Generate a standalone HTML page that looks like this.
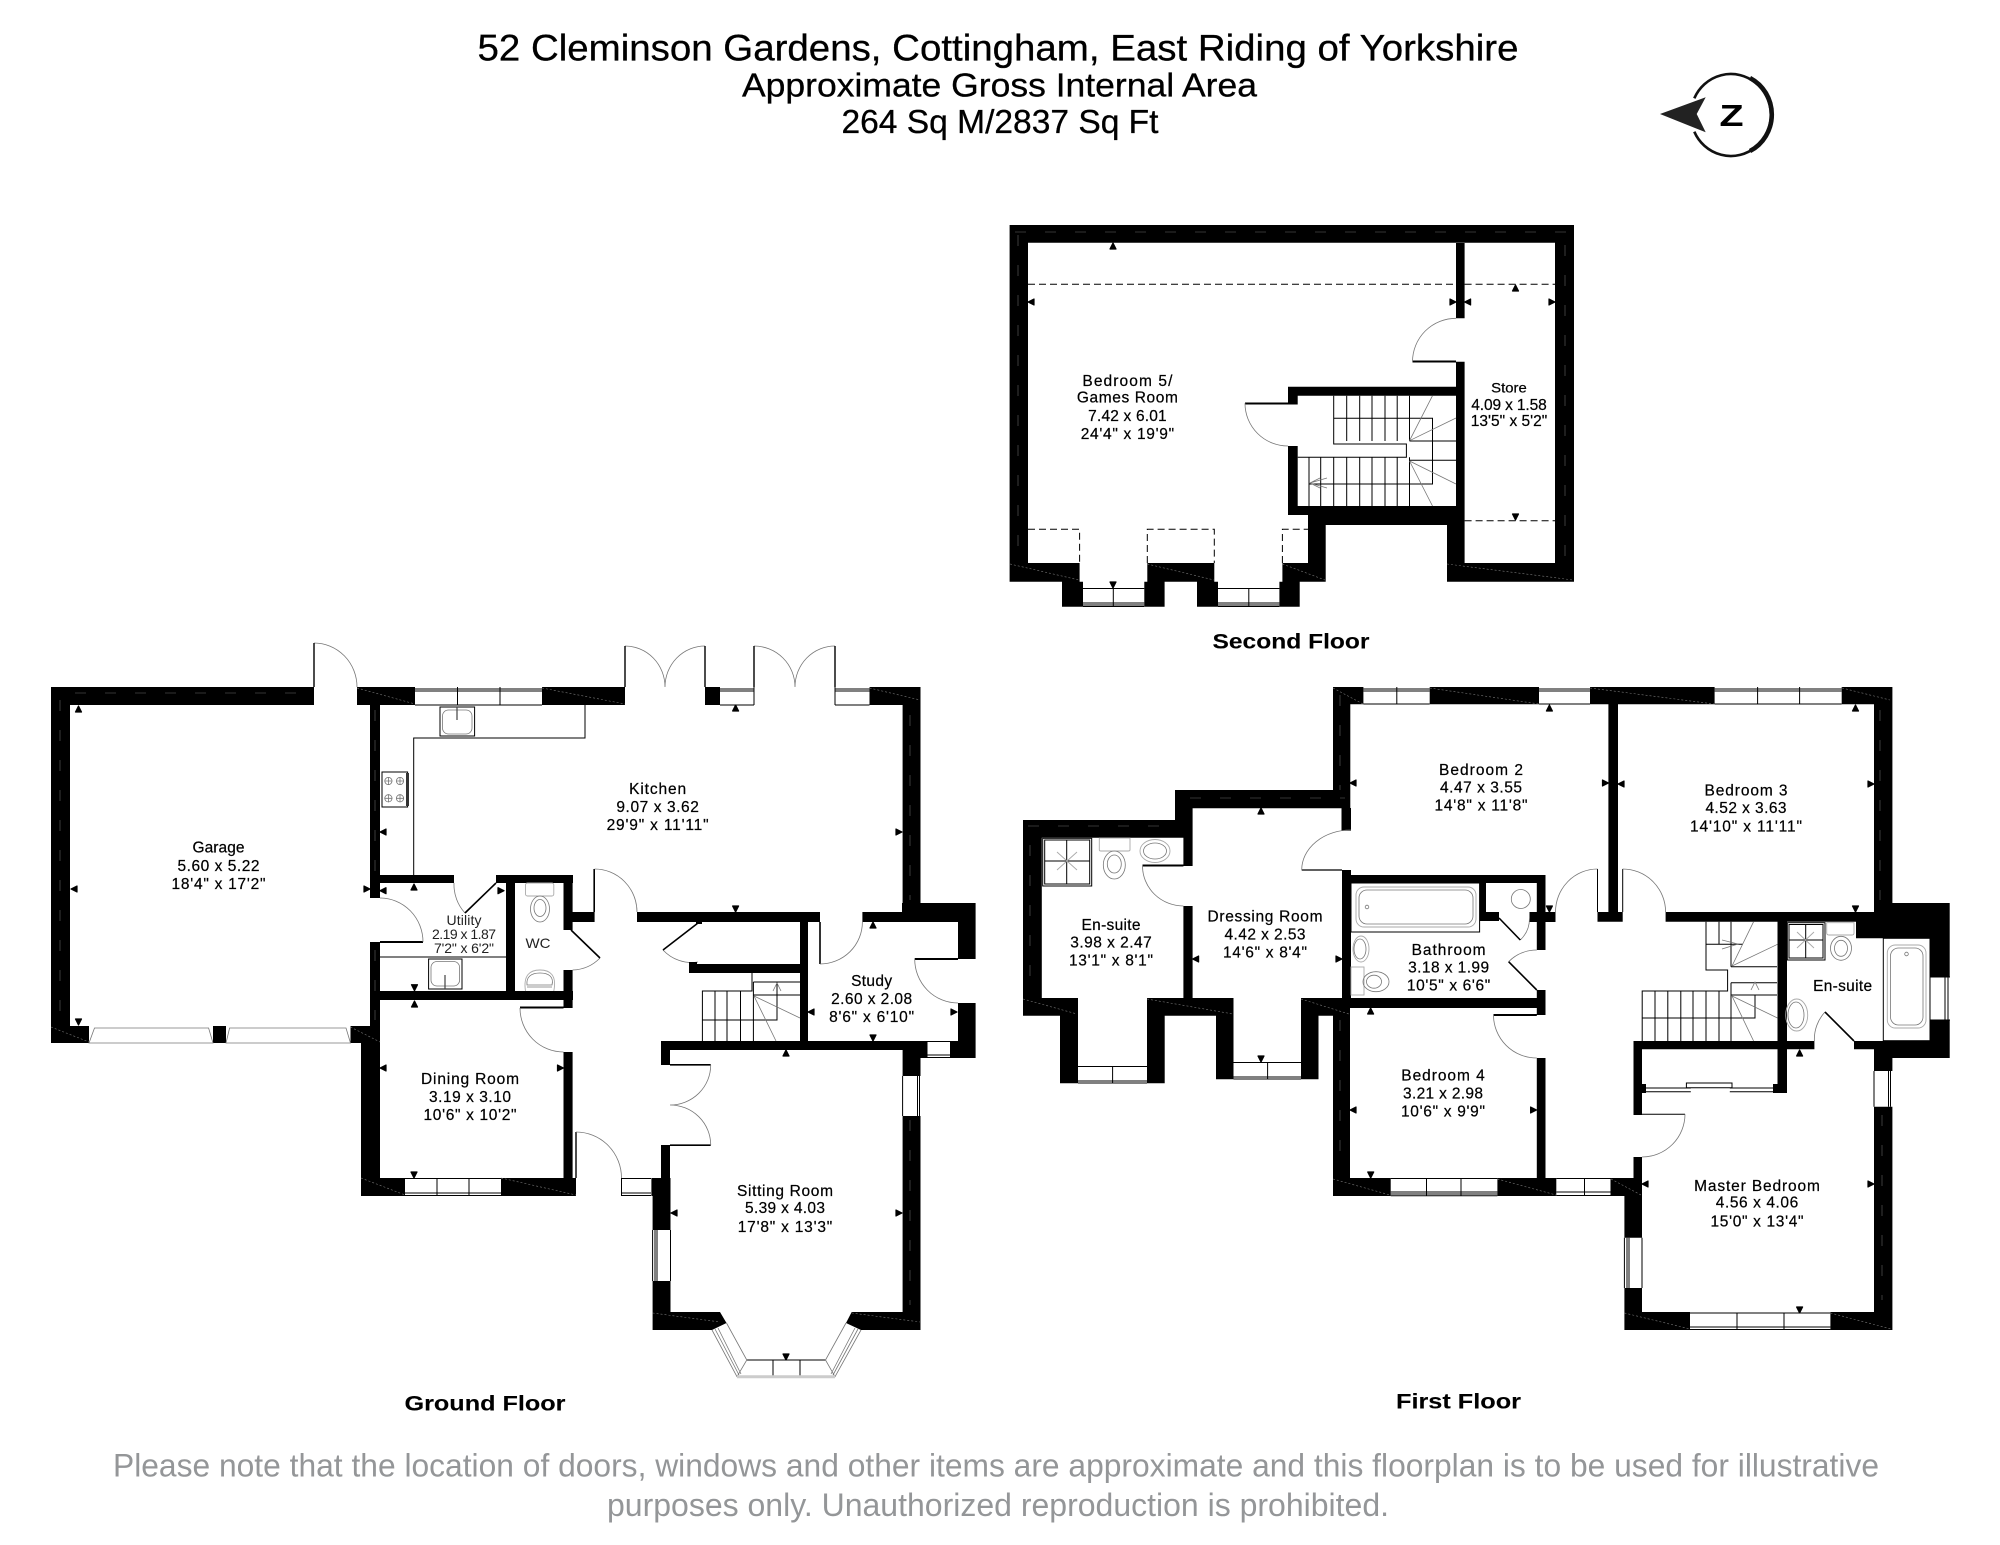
<!DOCTYPE html>
<html><head><meta charset="utf-8"><title>52 Cleminson Gardens Floorplan</title>
<style>
html,body{margin:0;padding:0;background:#fff}
svg{display:block}
text{font-family:"Liberation Sans",sans-serif;text-anchor:middle;fill:#000;font-size:15.5px;stroke:#000;stroke-width:.22}
.k{stroke:#000;stroke-width:1;fill:none}
.k2{stroke:#000;stroke-width:1.6;fill:none}
.g{stroke:#777;stroke-width:.8;fill:none}
.l{stroke:#aaa;stroke-width:.9;fill:none}
.d{stroke:#000;stroke-width:1;stroke-dasharray:7 4;fill:none}
.wd{stroke:#666;stroke-width:.6;stroke-dasharray:11 19;fill:none}
.wd2{stroke:#777;stroke-width:.6;stroke-dasharray:2 2;fill:none}
.t{font-size:14px;fill:#222;stroke-width:0}
.b{font-weight:bold;font-size:21px;stroke-width:.1}
.h{font-size:33px;stroke-width:.3}
.f{font-size:32px;fill:#949698;stroke:none}
</style></head><body>
<svg xmlns="http://www.w3.org/2000/svg" width="2000" height="1545" viewBox="0 0 2000 1545">
<rect width="2000" height="1545" fill="#fff"/>

<!-- Title -->
<text x="998" y="60.5" style="font-size:37px;stroke-width:.3" textLength="1041" lengthAdjust="spacingAndGlyphs">52 Cleminson Gardens, Cottingham, East Riding of Yorkshire</text>
<text x="999.5" y="96.5" class="h" textLength="515" lengthAdjust="spacingAndGlyphs">Approximate Gross Internal Area</text>
<text x="1000" y="133" class="h" textLength="317" lengthAdjust="spacingAndGlyphs">264 Sq M/2837 Sq Ft</text>

<!-- Compass -->
<path d="M1694.3 98.3A40 41 0 1 1 1694.3 131.7" fill="none" stroke="#111" stroke-width="2.6"/>
<path d="M1750 78A40 41 0 0 1 1750 151" fill="none" stroke="#111" stroke-width="4.6"/>
<path d="M1660 114L1705.7 97.3L1696.7 114L1705.7 132.3Z" fill="#222"/>
<text x="1731.5" y="126" class="b" style="font-size:31px" textLength="24" lengthAdjust="spacingAndGlyphs">Z</text>

<!-- WALLS -->
<path fill="#000" d="
M51 687H314V705H51Z M51 687H70V1043H51Z M51 1026H89V1043H51Z M213 1026H226V1043H213Z M350.5 1026H380V1043H350.5Z
M370 705H380V898H370Z M370 942H380V1026H370Z
M357 687H415V705H357Z M542 687H625V705H542Z M705 687H720V705H705Z M869.5 687H920.5V705H869.5Z
M902.6 687H920.5V922H902.6Z M902 903H975.6V922H902Z M862.4 912H975.6V922H862.4Z
M958 903H975.6V959H958Z M958 1003H975.6V1058H958Z M950 1041H975.6V1058H950Z
M914.7 958H958V960H914.7Z
M661 1041H927.5V1050H661Z M902.6 1041H927.5V1058H902.6Z
M902.6 1050H920.5V1076H902.6Z M902.6 1116H920.5V1330H902.6Z
M652.6 1312H720L726.5 1323L712 1330H652.6Z M851.7 1312H920.5V1330H861L846 1323Z
M652.6 1196H670.5V1230H652.6Z M652.6 1281H670.5V1312H652.6Z M651.4 1178H670.5V1196H651.4Z
M661 1145H670V1178H661Z M661 1050H670V1065H661Z M670 1064H710.7V1065.6H670Z M670 1144.4H710.7V1146H670Z
M361 1043H380V1196H361Z M361 1178H405V1196H361Z M501 1178H576V1196H501Z M563.5 1052H572.6V1178H563.5Z M575.3 1132H576.7V1178H575.3Z
M380 875H454V883H380Z M496 875H573V883H496Z M506 883H515V991H506Z M563.5 883H572.6V930H563.5Z M563.5 912H594.6V922H563.5Z M593.4 869H595V912H593.4Z
M637 912H820V922H637Z M800 922H808V1041H800Z M819.2 922H820.8V964H819.2Z M689 964H800V973H689Z
M380 941H423V943H380Z M370 991H573V1000H370Z M563.5 970H572.6V1008H563.5Z M520 1006.5H563.5V1008.5H520Z
M1009.6 225H1574V242.7H1009.6Z M1009.6 225H1028V581.7H1009.6Z M1555 225H1574V581.7H1555Z
M1009.6 563H1079.6V581.7H1009.6Z M1147.3 563H1214.3V581.7H1147.3Z M1282.4 563H1325.7V581.7H1282.4Z M1447 563H1574V581.7H1447Z
M1308 515H1325.7V581.7H1308Z M1447 515H1464.6V581.7H1447Z M1288 506H1464.6V515H1288Z M1308 515H1464.6V525H1308Z
M1456 243H1464.6V318.3H1456Z M1456 361.7H1464.6V525H1456Z M1412.5 360.5H1456V362.5H1412.5Z
M1288 386.7H1464.6V395.7H1288Z M1288 387H1297.7V404H1288Z M1245 402.5H1297.7V404.5H1245Z M1288 446H1297.7V515H1288Z
M1062 581.7H1083V606.7H1062Z M1144.3 581.7H1164.6V606.7H1144.3Z M1197 581.7H1218V606.7H1197Z M1279.4 581.7H1299.7V606.7H1279.4Z
M1023 820H1175V837.7H1023Z M1023 820H1041.8V1015.7H1023Z M1023 998H1078V1015.7H1023Z
M1060 1015.7H1078V1083.3H1060Z M1147 1015.7H1164.7V1083.3H1147Z M1147 998H1233.5V1015.7H1147Z
M1216 1015.7H1233.5V1079.3H1216Z M1301 1015.7H1318.5V1079.3H1301Z M1301 998H1350V1015.7H1301Z
M1175 790H1350.3V808.3H1175Z M1175 790H1192.6V837.7H1175Z M1183.4 837.7H1192.6V866H1183.4Z M1142.5 864.5H1183.4V866.5H1142.5Z M1183.4 906H1192.6V998H1183.4Z
M1333 687H1350.3V808H1333Z M1341.5 808H1351V830.7H1341.5Z M1342 870H1351V1007H1342Z M1301.7 869.4H1342V870.6H1301.7Z
M1333 1007H1350V1196H1333Z M1333 1178H1390.7V1196H1333Z M1497.4 1178H1556.3V1196H1497.4Z M1610.5 1178H1642V1196H1610.5Z
M1536.8 1058H1545.5V1178H1536.8Z M1333 998H1545.5V1008H1333Z M1536.8 990H1545.5V1015H1536.8Z M1493.5 1014H1536.8V1016H1493.5Z
M1342 875H1545.5V883H1342Z M1536.8 875H1545.5V950H1536.8Z M1529.5 912H1555.5V922H1529.5Z
M1479.6 883H1486V912H1479.6Z M1479.6 912H1499V921H1479.6Z
M1608.4 704H1618V921.7H1608.4Z M1597.5 912H1622.7V921.7H1597.5Z M1597 869H1598V912H1597Z M1622.2 869H1623.2V912H1622.2Z
M1665.6 912H1874V921.7H1665.6Z
M1333 687H1363.4V704.3H1333Z M1429.7 687H1539V704.3H1429.7Z M1590 687H1714.6V704.3H1590Z M1841.7 687H1892.4V704.3H1841.7Z M1874 687H1892.4V912H1874Z
M1874 903H1949.7V938.3H1874Z M1856 912H1874V938.3H1856Z
M1930 938H1949.7V977H1930Z M1930 1020H1949.7V1058H1930Z M1854 1041H1949.7V1049.3H1854Z M1874 1041H1949.7V1058H1874Z M1874 1058H1892.4V1071H1874Z M1874 1106.7H1892.4V1330H1874Z
M1777.5 921H1787V1041H1777.5Z M1633.5 1041H1814.4V1049.3H1633.5Z M1777.5 1049H1787V1093H1777.5Z
M1633.5 1049H1642V1115H1633.5Z M1633.5 1157H1642V1178H1633.5Z M1624.4 1196H1642V1237.7H1624.4Z M1624.4 1288H1642V1330H1624.4Z M1624.4 1312H1690V1330H1624.4Z M1830.4 1312H1892.4V1330H1830.4Z
M1642 1113.8H1685V1114.8H1642Z
M1642 1084H1646V1093H1642Z M1773 1084H1777.5V1093H1773Z
"/>

<!-- Window outlines / mullions -->
<path class="k" d="
M415 689H542M415 691H542M415 705H542M457.5 687V705M500 687V705
M720 689H754M720 691H754M720 705H754M754 687V705
M835 687V705M835 689H869.5M835 691H869.5M835 705H869.5
M405 1178.5H501M405 1193H501M405 1195.5H501M437 1178V1196M469 1178V1196
M621.5 1178.5H651M621.5 1193H651M621.5 1195.5H651M621.5 1178V1196
M927.5 1041.5H950M927.5 1055H950M927.5 1057.5H950
M917.5 1076V1116M919.5 1076V1116M902.6 1076V1116
M652.6 1230V1281M655 1230V1281M657 1230V1281M670.5 1230V1281
M1083 588.5H1144.3M1083 603H1144.3M1083 605H1144.3M1083 606.5H1144.3M1113.3 588V606.7
M1218 588.5H1279.4M1218 603H1279.4M1218 605H1279.4M1218 606.5H1279.4M1248.8 588V606.7
M1078 1066.5H1147M1078 1081H1147M1078 1083H1147M1112.6 1066V1083.3
M1233.5 1062.5H1301M1233.5 1077H1301M1233.5 1079H1301M1267.6 1062V1079.3
M1363.4 689H1429.7M1363.4 691H1429.7M1363.4 704H1429.7M1396.8 687V704.3
M1539 689H1590M1539 691H1590M1539 704H1590
M1714.6 689H1841.7M1714.6 691H1841.7M1714.6 704H1841.7M1757.6 687V704.3M1799.6 687V704.3
M1390.7 1178.5H1497.4M1390.7 1192H1497.4M1390.7 1194H1497.4M1390.7 1195.7H1497.4M1426.5 1178V1196M1461 1178V1196
M1556.3 1178.5H1610.5M1556.3 1192H1610.5M1556.3 1195.5H1610.5M1584.5 1178V1196
M1624.4 1237.7V1288M1627 1237.7V1288M1629 1237.7V1288M1642 1237.7V1288
M1874 1071V1106.7M1888.5 1071V1106.7M1890.5 1071V1106.7
M1690 1313H1830.4M1690 1327H1830.4M1690 1329.5H1830.4M1737 1313V1330M1784 1313V1330
M1930 977H1950M1930 1020H1950M1945 977V1020M1948 977V1020
M773 1360V1377M800 1360V1377M746.8 1360H825.5
"/>
<path class="g" d="M89 1043H213L208.6 1028H94.5ZM226 1043H350.5L346 1028H229.6ZM712 1330L737 1376.7H835L861 1330M715 1329L739 1375M718 1328L741 1374M858 1329L833 1375M855 1328L831 1374M726.5 1323L746.8 1360L737 1376.7M846 1323L825.5 1360L835 1376.7"/>
<path d="M737 1376.7H835" stroke="#ccc" stroke-width="3"/>

<!-- Thin wall dashes -->
<path class="wd" d="M75 693H312M60 700V1020M375 710V890M375 950V1020M910 715V900M910 1120V1305M1015 232H1570M1018 235V560M1565 245V560M1028 826H1170M1030 845V990M1340 695V790M1340 1020V1170M1880 710V900M1882 1115V1300M1190 798H1345"/>
<path class="wd2" d="M357 688L415 704M542 688L625 704M869.5 688L920 700M51 1027L89 1042M350.5 1027L380 1042M361 1178L405 1195M501 1178L576 1195M652.6 1313L720 1322M851.7 1313L920 1322M1333 688L1363 704M1429.7 688L1539 704M1590 688L1714 704M1842 688L1890 700M1333 1179L1390 1195M1497.4 1179L1556 1195M1611 1179L1641 1195M1624.4 1313L1690 1329M1830.4 1313L1891 1329M1010 564L1079 580M1147.3 564L1214 580M1282.4 564L1325 580M1447 564L1573 580M1023 999L1077 1014M1147 999L1233 1014M1301 999L1349 1014"/>

<!-- Door arcs -->
<path class="g" d="
M314 643A43 44 0 0 1 357 687
M625 646A40 41 0 0 1 665 687M705 646A40 41 0 0 0 665 687
M754 646A41 41 0 0 1 795 687M835 646A40 41 0 0 0 795 687
M594.6 869A42.4 43 0 0 1 637 912
M820 964A42.4 42 0 0 0 862.4 922
M914.7 959A43.3 44 0 0 0 958 1003
M380 898A43 44 0 0 1 423 942
M454 883A42 42 0 0 0 465 913
M600 958A40 40 0 0 1 572.6 970
M520 1008A43.5 44 0 0 0 563.5 1052
M576 1132A45.5 46 0 0 1 621.5 1178
M710.7 1065A40.7 40 0 0 1 670 1105M670 1105A40.7 40 0 0 1 710.7 1145
M663 950A39 39 0 0 0 698 962
M1456 318.3A43.5 43.4 0 0 0 1412.5 361.7
M1245 403.3A43 42.7 0 0 0 1288 446
M1142.5 866A41 40 0 0 0 1183.4 906
M1351 830A49 40 0 0 0 1301.7 870
M1597.5 869A42 43 0 0 0 1555.5 912
M1622.7 869A43 43 0 0 1 1665.6 912
M1536.8 950A40 40 0 0 0 1508.6 961.7
M1493.5 1015A43.3 43 0 0 0 1536.8 1058
M1685 1114.3A43 43 0 0 1 1642 1157
M1520.3 940A30 30 0 0 0 1529.5 918
M1825 1012A40 40 0 0 0 1814.4 1041
"/>
<!-- Door leaves -->
<path class="k2" d="M465 913L496 883M571 930L600 958M698 923L663 950M1499 918L1520.3 940M1508.6 961.7L1536.8 990M1825 1012L1854 1041"/>
<path d="M314 643V687M625 646V687M705 646V687M754 646V687M835 646V687" stroke="#000" stroke-width="1.4"/>
<rect x="696" y="922" width="6" height="2" fill="#000"/>
<rect x="689" y="962" width="8" height="2" fill="#000"/>

<!-- Dashed roof lines -->
<path class="d" d="M1028 284.3H1456M1464.6 284.3H1555M1464.6 520.7H1555M1028 529.3H1079.6V563M1147.3 563V529.3H1214.3V563M1282.4 563V529.3H1308"/>

<!-- Stairs -->
<path class="k" d="M752 973V991H702.4V1041M715 991V1041M727 991V1041M740.5 991V1041M753.4 982V1041M702.4 1020H777V982M753.4 982H800M753.4 995H800"/>
<path class="g" d="M754 996L800 1018M754 996L776 1041M773 991L777 983L781 991"/>
<path class="k" d="M1333.7 395.7V441M1346.7 395.7V441M1359.7 395.7V441M1372 395.7V441M1385 395.7V441M1397.2 395.7V441M1409.5 395.7V441M1333.7 418.3H1432.5V484H1309M1333.7 441V444H1406.4V457.3H1297.7M1309 457.3V506M1320.7 457.3V506M1333.7 457.3V506M1346.7 457.3V506M1359.7 457.3V506M1372 457.3V506M1385 457.3V506M1397.2 457.3V506M1409.5 457.3V506M1409.5 441H1456M1409.5 460.3H1456"/>
<path class="g" d="M1409.5 440.7L1432.5 395.7M1409.5 440.7L1456 418M1409.5 461L1456 484M1409.5 461L1432.5 506M1327 478L1310 483L1327 488M1320 478L1310 483L1320 488"/>
<path class="k" d="M1706 921.7V970H1727.6V991H1642.2V1041M1655 991V1041M1667.8 991V1041M1680.8 991V1041M1693 991V1041M1706 991V1041M1719 991V1041M1731 982.7V1041M1642.2 1018H1755V995M1731 982.7H1777M1731 995H1777M1706 944.3H1743M1731 966.7H1777M1719 921.7V944.3M1731 921.7V966.7"/>
<path class="g" d="M1732 966L1753.6 921.7M1732 966L1777.5 944.3M1732 996L1777.5 1018M1732 996L1753.6 1041M1722 940L1738 944L1722 949M1751 990L1755 982L1759 990"/>
<!-- Wardrobe -->
<path class="k" d="M1645 1088H1690.8M1645 1091.7H1690.8M1686.4 1083H1732V1087.7H1686.4ZM1729.8 1088H1773M1729.8 1091.7H1773"/>

<!-- Kitchen fittings -->
<path class="k" d="M585 705V738H413.7V875M380 957H506"/>
<rect class="k" x="440" y="707" width="34.6" height="29"/>
<rect class="g" x="442.5" y="710" width="29.5" height="24" rx="6"/>
<path d="M457 707V720" stroke="#444" stroke-width="1.2"/>
<rect class="k" x="382" y="772" width="25.6" height="35"/>
<rect x="406" y="773" width="3" height="33" fill="#333"/>
<path class="g" d="M384.4 781h8M388.4 777v8M396 781h8M400 777v8M384.4 798.3h8M388.4 794.3v8M396 798.3h8M400 794.3v8"/>
<circle class="g" cx="388.4" cy="781" r="3.6"/><circle class="g" cx="400" cy="781" r="3.6"/><circle class="g" cx="388.4" cy="798.3" r="3.6"/><circle class="g" cx="400" cy="798.3" r="3.6"/>
<rect class="k" x="428.6" y="959" width="33.4" height="30"/>
<rect class="g" x="431" y="961.5" width="28.6" height="24.5" rx="6"/>
<path d="M445 975V989" stroke="#444" stroke-width="1.2"/>

<!-- WC ground -->
<rect class="l" x="525.5" y="883" width="28.3" height="13" rx="2"/>
<ellipse class="g" cx="540" cy="909" rx="9.5" ry="13"/><ellipse class="g" cx="540" cy="908" rx="6" ry="8.5"/>
<path class="l" d="M525.5 991C523 975 530 970 540 970C550 970 557 975 553.8 991"/>
<path class="g" d="M527 985C526 977 531 973 540 973C549 973 554 977 552 985ZM527 987H552"/>

<!-- En-suite left -->
<rect class="k" x="1042.7" y="838.3" width="49" height="47.7"/><rect class="k" x="1044.7" y="840" width="45" height="44"/>
<path class="k" d="M1066.7 840V884M1044.7 861H1089.7"/>
<path class="l" d="M1057 852L1077 870M1077 852L1057 870"/>
<path class="l" d="M1099.3 838H1130V850Q1130 851 1128 851H1101Q1099.3 851 1099.3 850Z"/>
<ellipse class="g" cx="1114.3" cy="865" rx="11" ry="14"/><ellipse class="g" cx="1114.3" cy="864" rx="7" ry="9"/>
<ellipse class="l" cx="1155" cy="851" rx="15" ry="11.5"/><ellipse class="g" cx="1155" cy="851" rx="11.5" ry="8"/>

<!-- Bathroom -->
<rect class="k" x="1351" y="883" width="128.6" height="49"/>
<rect class="l" x="1356" y="887" width="120" height="40" rx="8"/>
<rect class="g" x="1359" y="890" width="114" height="34" rx="8"/>
<circle class="g" cx="1367" cy="907" r="1.8"/>
<circle class="g" cx="1520.8" cy="899" r="9.5"/>
<ellipse class="l" cx="1361" cy="949" rx="8" ry="13"/><ellipse class="g" cx="1360" cy="949" rx="6" ry="10"/>
<rect class="l" x="1351" y="967" width="13" height="28"/>
<ellipse class="g" cx="1376" cy="981.7" rx="13" ry="10"/><ellipse class="g" cx="1374" cy="981.7" rx="7.5" ry="6.5"/>

<!-- En-suite right -->
<rect class="k" x="1787.3" y="922.7" width="37.7" height="37.3"/><rect class="k" x="1789" y="924.5" width="34" height="33.5"/>
<path class="k" d="M1805.7 924.5V958M1789 940H1823"/>
<path class="l" d="M1797 932L1814 948M1814 932L1797 948"/>
<path class="l" d="M1826.7 922.7H1854V933Q1854 935 1852 935H1829Q1826.7 935 1826.7 933Z"/>
<ellipse class="g" cx="1841" cy="948.3" rx="10.5" ry="12"/><ellipse class="g" cx="1841" cy="948.3" rx="6.5" ry="8"/>
<rect class="k" x="1883.3" y="938.3" width="46.7" height="102.4"/>
<rect class="l" x="1887.3" y="945" width="38.7" height="83" rx="8"/>
<rect class="g" x="1890.5" y="948" width="32.5" height="77" rx="8"/>
<circle class="g" cx="1906.5" cy="954" r="1.8"/>
<ellipse class="l" cx="1796.7" cy="1015" rx="11" ry="16"/><ellipse class="g" cx="1796" cy="1015" rx="8" ry="13"/>

<!-- Dimension triangles -->
<path fill="#000" stroke="#000" stroke-width="1.2" stroke-linejoin="round" d="
M78.5 706l-3 6h6zM78.5 1025l-3-6h6zM71 889l6-3v6zM370 889l-6-3v6z
M380 832l6-3v6zM902 832l-6-3v6zM735.6 705l-3 6h6zM735.6 912l-3-6h6z
M380 890.7l6-3v6zM504 890.7l-6-3v6zM414 884l-3 6h6zM414.5 990.7l-3-6h6z
M414.5 1001l-3 6h6zM380 1068l6-3v6zM563.5 1068l-6-3v6zM414 1178l-3-6h6z
M808 1012l6-3v6zM957 1012l-6-3v6zM873 922l-3 6h6zM873 1041l-3-6h6z
M786 1050l-3 6h6zM671 1213l6-3v6zM902 1213l-6-3v6zM786 1360l-3-6h6z
M1113 243l-3 6h6zM1028 302l6-3v6zM1456 302l-6-3v6zM1464.6 302l6-3v6zM1555 302l-6-3v6zM1515.5 285l-3 6h6zM1515.5 520l-3-6h6zM1113 588l-3-6h6z
M1261 808l-3 6h6zM1350 783l6-3v6zM1608.5 783l-6-3v6zM1192.6 959l6-3v6zM1342 959l-6-3v6zM1261 1062l-3-6h6zM1370.6 1008l-3 6h6zM1350 1110l6-3v6zM1536.6 1110l-6-3v6z
M1549.4 705l-3 6h6zM1618 784l6-3v6zM1874 784l-6-3v6zM1855.5 705l-3 6h6zM1855.5 912l-3-6h6zM1549.4 912l-3-6h6z
M1370.7 1178l-3-6h6zM1642 1184l6-3v6zM1874 1184l-6-3v6zM1799.6 1313l-3-6h6zM1799.6 1050l-3 6h6z"/>

<!-- Labels: ground -->
<text x="218.5" y="852.5" textLength="52">Garage</text>
<text x="218.5" y="871" textLength="82">5.60 x 5.22</text>
<text x="218.5" y="889" textLength="94">18'4" x 17'2"</text>
<text x="657.6" y="794" textLength="57">Kitchen</text>
<text x="657.6" y="812" textLength="82.5">9.07 x 3.62</text>
<text x="657.6" y="830" textLength="102">29'9" x 11'11"</text>
<text x="464" y="925" class="t" textLength="35">Utility</text>
<text x="464" y="939" class="t" textLength="64">2.19 x 1.87</text>
<text x="464" y="953" class="t" textLength="60">7'2" x 6'2"</text>
<text x="538" y="948" class="t" textLength="25" lengthAdjust="spacingAndGlyphs">WC</text>
<text x="470" y="1084" textLength="98">Dining Room</text>
<text x="470" y="1102" textLength="82">3.19 x 3.10</text>
<text x="470" y="1120" textLength="93">10'6" x 10'2"</text>
<text x="871.6" y="986" textLength="41">Study</text>
<text x="871.6" y="1004" textLength="81">2.60 x 2.08</text>
<text x="871.6" y="1022" textLength="85">8'6" x 6'10"</text>
<text x="785" y="1196" textLength="96">Sitting Room</text>
<text x="785" y="1213" textLength="80">5.39 x 4.03</text>
<text x="785" y="1232" textLength="94.5">17'8" x 13'3"</text>
<text x="485" y="1410.7" class="b" textLength="161" lengthAdjust="spacingAndGlyphs">Ground Floor</text>

<!-- Labels: second -->
<text x="1127.4" y="386" textLength="90">Bedroom 5/</text>
<text x="1127.4" y="402.7" textLength="101">Games Room</text>
<text x="1127.4" y="421" textLength="78.5">7.42 x 6.01</text>
<text x="1127.4" y="439" textLength="93.4">24'4" x 19'9"</text>
<text x="1509" y="392.7" textLength="35.6" lengthAdjust="spacingAndGlyphs" style="font-size:14px">Store</text>
<text x="1509" y="410" textLength="75.4">4.09 x 1.58</text>
<text x="1509" y="426" textLength="76.5">13'5" x 5'2"</text>
<text x="1291" y="648.3" class="b" textLength="157" lengthAdjust="spacingAndGlyphs">Second Floor</text>

<!-- Labels: first -->
<text x="1111" y="930" textLength="59">En-suite</text>
<text x="1111" y="947.7" textLength="81.5">3.98 x 2.47</text>
<text x="1111" y="965.7" textLength="84">13'1" x 8'1"</text>
<text x="1265" y="921.7" textLength="115">Dressing Room</text>
<text x="1265" y="939.3" textLength="81">4.42 x 2.53</text>
<text x="1265" y="957.7" textLength="84">14'6" x 8'4"</text>
<text x="1481" y="775" textLength="84">Bedroom 2</text>
<text x="1481" y="792.7" textLength="82">4.47 x 3.55</text>
<text x="1481" y="810.7" textLength="93">14'8" x 11'8"</text>
<text x="1448.6" y="955" textLength="74">Bathroom</text>
<text x="1448.6" y="972.7" textLength="81">3.18 x 1.99</text>
<text x="1448.6" y="990.7" textLength="83.4">10'5" x 6'6"</text>
<text x="1443" y="1080.7" textLength="83.4">Bedroom 4</text>
<text x="1443" y="1098.3" textLength="80">3.21 x 2.98</text>
<text x="1443" y="1116.7" textLength="84">10'6" x 9'9"</text>
<text x="1746" y="795.7" textLength="83">Bedroom 3</text>
<text x="1746" y="813" textLength="81">4.52 x 3.63</text>
<text x="1746" y="831.7" textLength="112">14'10" x 11'11"</text>
<text x="1842.6" y="991" textLength="59">En-suite</text>
<text x="1757" y="1191" textLength="125.8">Master Bedroom</text>
<text x="1757" y="1207.7" textLength="82.4">4.56 x 4.06</text>
<text x="1757" y="1226.7" textLength="93">15'0" x 13'4"</text>
<text x="1458.5" y="1408.6" class="b" textLength="125" lengthAdjust="spacingAndGlyphs">First Floor</text>

<!-- Footer -->
<text x="996" y="1476.7" class="f" textLength="1766" lengthAdjust="spacingAndGlyphs">Please note that the location of doors, windows and other items are approximate and this floorplan is to be used for illustrative</text>
<text x="998" y="1516" class="f" textLength="782" lengthAdjust="spacingAndGlyphs">purposes only. Unauthorized reproduction is prohibited.</text>
</svg>
</body></html>
